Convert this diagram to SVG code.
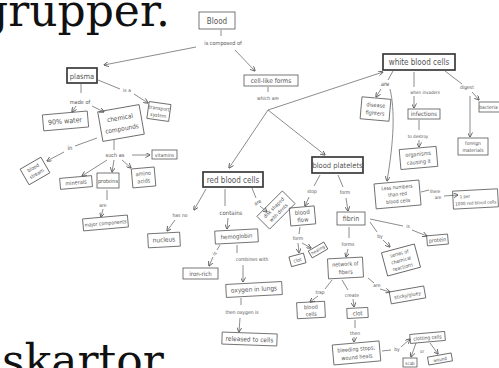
<svg xmlns="http://www.w3.org/2000/svg" width="499" height="368" viewBox="0 0 499 368">
  <defs>
    <marker id="arr" viewBox="0 0 6 6" refX="5.5" refY="3" markerWidth="5" markerHeight="5" markerUnits="userSpaceOnUse" orient="auto">
      <path d="M0,0 L6,3 L0,6" fill="none" stroke="#555" stroke-width="1"/>
    </marker>
  </defs>
  <style>
    .bg { fill: #ffffff; }
    .big { font-family: "DejaVu Serif", "Liberation Serif", serif; font-size: 44px; fill: #111; }
    .box { fill: none; stroke: #555; stroke-width: 0.8; }
    .main { fill: none; stroke: #3a3a3a; stroke-width: 1.7; }
    .t { font-family: "DejaVu Sans Condensed", "DejaVu Sans", sans-serif; fill: #555; text-anchor: middle; }
    .c { fill: none; stroke: #666; stroke-width: 0.75; }
    .a { marker-end: url(#arr); }
  </style>
  <rect class="bg" x="0" y="0" width="499" height="368"/>

  <!-- surrounding page text -->
  <text class="big" x="-20" y="26">grupper.</text>
  <text class="big" x="2" y="376">skartor</text>

  <!-- connectors -->
  <g id="connectors">
    <line class="c" x1="221" y1="30" x2="221" y2="36"/>
    <line class="c a" x1="196" y1="47" x2="104" y2="65"/>
    <line class="c a" x1="235" y1="50" x2="255" y2="71"/>
    <line class="c" x1="268" y1="87" x2="268" y2="92"/>
    <line class="c a" x1="268" y1="110" x2="229" y2="168"/>
    <line class="c a" x1="268" y1="110" x2="325" y2="155"/>
    <line class="c a" x1="268" y1="110" x2="383" y2="72"/>

    <line class="c" x1="98" y1="80" x2="120" y2="89"/>
    <line class="c a" x1="134" y1="94" x2="148" y2="103"/>
    <line class="c" x1="81" y1="84" x2="81" y2="93"/>
    <line class="c a" x1="76" y1="106" x2="72" y2="112"/>
    <line class="c a" x1="92" y1="106" x2="104" y2="112"/>
    <line class="c" x1="97" y1="138" x2="75" y2="146"/>
    <line class="c a" x1="64" y1="152" x2="47" y2="161"/>
    <line class="c" x1="114" y1="140" x2="114" y2="150"/>
    <line class="c a" x1="132" y1="155" x2="150" y2="155"/>
    <line class="c a" x1="107" y1="160" x2="82" y2="176"/>
    <line class="c a" x1="114" y1="160" x2="112" y2="172"/>
    <line class="c a" x1="122" y1="160" x2="131" y2="168"/>
    <line class="c" x1="107" y1="190" x2="107" y2="200"/>
    <line class="c a" x1="103" y1="209" x2="101" y2="217"/>

    <line class="c a" x1="206" y1="189" x2="194" y2="210"/>
    <line class="c a" x1="175" y1="220" x2="167" y2="231"/>
    <line class="c" x1="225" y1="189" x2="225" y2="206"/>
    <line class="c a" x1="228" y1="218" x2="227" y2="229"/>
    <line class="c" x1="252" y1="188" x2="256" y2="198"/>
    <line class="c a" x1="260" y1="206" x2="267" y2="212"/>
    <line class="c" x1="220" y1="245" x2="217" y2="250"/>
    <line class="c a" x1="213" y1="257" x2="209" y2="266"/>
    <line class="c" x1="237" y1="245" x2="237" y2="253"/>
    <line class="c a" x1="243" y1="265" x2="243" y2="282"/>
    <line class="c" x1="241" y1="298" x2="241" y2="305"/>
    <line class="c a" x1="240" y1="318" x2="239" y2="332"/>

    <line class="c" x1="393" y1="71" x2="388" y2="80"/>
    <line class="c a" x1="381" y1="89" x2="376" y2="97"/>
    <path class="c a" d="M390,89 C395,110 394,140 387,181"/>
    <line class="c" x1="414" y1="72" x2="414" y2="87"/>
    <line class="c a" x1="414" y1="96" x2="414" y2="108"/>
    <line class="c" x1="419" y1="120" x2="419" y2="130"/>
    <line class="c a" x1="419" y1="140" x2="419" y2="147"/>
    <line class="c" x1="445" y1="71" x2="462" y2="84"/>
    <line class="c a" x1="472" y1="92" x2="479" y2="100"/>
    <line class="c a" x1="470" y1="96" x2="470" y2="137"/>
    <line class="c" x1="421" y1="192" x2="429" y2="190"/>
    <line class="c a" x1="444" y1="196" x2="458" y2="195"/>

    <line class="c" x1="320" y1="175" x2="314" y2="186"/>
    <line class="c a" x1="309" y1="197" x2="305" y2="206"/>
    <line class="c" x1="338" y1="175" x2="343" y2="187"/>
    <line class="c a" x1="346" y1="198" x2="348" y2="211"/>
    <line class="c" x1="300" y1="227" x2="299" y2="234"/>
    <line class="c a" x1="298" y1="243" x2="299" y2="253"/>
    <line class="c a" x1="302" y1="243" x2="311" y2="248"/>
    <line class="c" x1="349" y1="227" x2="349" y2="238"/>
    <line class="c a" x1="348" y1="249" x2="346" y2="257"/>
    <line class="c" x1="370" y1="219" x2="403" y2="226"/>
    <line class="c a" x1="412" y1="230" x2="427" y2="236"/>
    <line class="c" x1="370" y1="222" x2="377" y2="232"/>
    <line class="c a" x1="383" y1="240" x2="390" y2="247"/>
    <line class="c" x1="368" y1="278" x2="374" y2="283"/>
    <line class="c a" x1="380" y1="289" x2="390" y2="292"/>
    <line class="c" x1="332" y1="280" x2="325" y2="289"/>
    <line class="c a" x1="318" y1="296" x2="310" y2="302"/>
    <line class="c" x1="342" y1="280" x2="348" y2="290"/>
    <line class="c a" x1="353" y1="299" x2="354" y2="307"/>
    <line class="c" x1="355" y1="320" x2="355" y2="328"/>
    <line class="c a" x1="354" y1="337" x2="354" y2="342"/>
    <line class="c" x1="382" y1="351" x2="391" y2="350"/>
    <line class="c a" x1="401" y1="347" x2="410" y2="339"/>
    <line class="c a" x1="416" y1="343" x2="411" y2="357"/>
    <line class="c a" x1="430" y1="343" x2="438" y2="354"/>
  </g>

  <!-- link phrases -->
  <g id="link-labels">
    <text class="t" x="223" y="45" font-size="5.5">is composed of</text>
    <text class="t" x="268" y="100" font-size="5">which are</text>
    <text class="t" x="127" y="92" font-size="5">is a</text>
    <text class="t" x="80" y="104" font-size="5.5">made of</text>
    <text class="t" x="70" y="150" font-size="6">in</text>
    <text class="t" x="115" y="157" font-size="5.5">such as</text>
    <text class="t" x="103" y="207" font-size="5">are</text>
    <text class="t" x="180" y="217" font-size="5">has no</text>
    <text class="t" x="231" y="215" font-size="6">contains</text>
    <text class="t" x="258" y="204" font-size="5" transform="rotate(-30 258 203)">are</text>
    <text class="t" x="215" y="255" font-size="5" transform="rotate(-40 215 254)">is</text>
    <text class="t" x="252" y="261" font-size="5">combines with</text>
    <text class="t" x="242" y="314" font-size="5">then oxygen is</text>
    <text class="t" x="385" y="86" font-size="6">are</text>
    <text class="t" x="425" y="94" font-size="4.5">when invaders</text>
    <text class="t" x="418" y="138" font-size="4.5">to destroy</text>
    <text class="t" x="467" y="89" font-size="5">digest</text>
    <text class="t" x="435" y="193" font-size="4.5">there</text>
    <text class="t" x="438" y="199" font-size="4.5">are</text>
    <text class="t" x="312" y="193" font-size="5">stop</text>
    <text class="t" x="345" y="194" font-size="5">form</text>
    <text class="t" x="298" y="240" font-size="5">form</text>
    <text class="t" x="348" y="246" font-size="5">forms</text>
    <text class="t" x="408" y="228" font-size="5">is</text>
    <text class="t" x="380" y="238" font-size="5">by</text>
    <text class="t" x="377" y="287" font-size="5">are</text>
    <text class="t" x="320" y="294" font-size="5">trap</text>
    <text class="t" x="352" y="297" font-size="5">create</text>
    <text class="t" x="355" y="335" font-size="5">then</text>
    <text class="t" x="397" y="351" font-size="5">by</text>
    <text class="t" x="422" y="353" font-size="4.5">or</text>
  </g>

  <!-- concepts -->
  <g id="blood"><rect class="box" x="199" y="12" width="36" height="17" stroke-width="1.1"/><text class="t" x="217" y="23.5" font-size="8">Blood</text></g>
  <g id="cell-like-forms"><rect class="box" x="244" y="75" width="54" height="11"/><text class="t" x="271" y="83" font-size="6.5">cell-like forms</text></g>
  <g id="plasma"><rect class="main" x="67" y="68" width="30" height="15"/><text class="t" x="82" y="78.5" font-size="7.5">plasma</text></g>
  <g id="transport-system" transform="rotate(8 159 111)"><rect class="box" x="148" y="103" width="22" height="17"/><text class="t" x="159" y="110" font-size="5">transport</text><text class="t" x="159" y="117" font-size="5">system</text></g>
  <g id="water" transform="rotate(-5 65 121)"><rect class="box" x="43" y="113" width="45" height="16"/><text class="t" x="65" y="123.5" font-size="7">90% water</text></g>
  <g id="chemical-compounds" transform="rotate(-10 121 123)"><rect class="box" x="100" y="108" width="42" height="30"/><text class="t" x="121" y="120" font-size="6.5">chemical</text><text class="t" x="121" y="131" font-size="6.5">compounds</text></g>
  <g id="blood-stream" transform="rotate(-30 35 171)"><rect class="box" x="23" y="162" width="24" height="18"/><text class="t" x="35" y="169" font-size="5">blood</text><text class="t" x="35" y="176" font-size="5">stream</text></g>
  <g id="vitamins"><rect class="box" x="152" y="150" width="25" height="9"/><text class="t" x="164.5" y="156.5" font-size="5">vitamins</text></g>
  <g id="minerals" transform="rotate(-5 76 182)"><rect class="box" x="60" y="177" width="32" height="11"/><text class="t" x="76" y="184.5" font-size="5.5">minerals</text></g>
  <g id="proteins"><rect class="box" x="97" y="173" width="22" height="15"/><text class="t" x="108" y="182.5" font-size="5.5">proteins</text></g>
  <g id="amino-acids" transform="rotate(-5 143 177)"><rect class="box" x="132" y="168" width="23" height="19"/><text class="t" x="143.5" y="175.5" font-size="5.5">amino</text><text class="t" x="143.5" y="183" font-size="5.5">acids</text></g>
  <g id="major-components" transform="rotate(-5 105 223)"><rect class="box" x="83" y="217" width="45" height="12"/><text class="t" x="105.5" y="225" font-size="5">major components</text></g>

  <g id="red-blood-cells"><rect class="main" x="203" y="172" width="60" height="15"/><text class="t" x="233" y="182.5" font-size="8">red blood cells</text></g>
  <g id="blood-platelets"><rect class="main" x="312" y="157" width="51" height="16"/><text class="t" x="337.5" y="167.5" font-size="7.5">blood platelets</text></g>
  <g id="white-blood-cells"><rect class="main" x="383" y="54" width="72" height="16"/><text class="t" x="419" y="65" font-size="8">white blood cells</text></g>

  <g id="nucleus" transform="rotate(-3 164 240)"><rect class="box" x="148" y="233" width="32" height="14"/><text class="t" x="164" y="242" font-size="6.5">nucleus</text></g>
  <g id="hemoglobin" transform="rotate(-3 236 236)"><rect class="box" x="215" y="230" width="43" height="13"/><text class="t" x="236.5" y="238.5" font-size="6">hemoglobin</text></g>
  <g id="disk-shape" transform="rotate(-45 276 210)"><rect class="box" x="258" y="201" width="36" height="18"/><text class="t" x="276" y="208.5" font-size="5">disk shaped</text><text class="t" x="276" y="215.5" font-size="5">with dents</text></g>
  <g id="iron-rich"><rect class="box" x="183" y="268" width="35" height="11"/><text class="t" x="200.5" y="275.5" font-size="6">iron-rich</text></g>
  <g id="oxygen-in-lungs" transform="rotate(-3 254 289)"><rect class="box" x="226" y="283" width="56" height="13"/><text class="t" x="254" y="291.5" font-size="6.5">oxygen in lungs</text></g>
  <g id="released-to-cells" transform="rotate(2 249 339)"><rect class="box" x="222" y="333" width="55" height="12"/><text class="t" x="249.5" y="341.5" font-size="6.5">released to cells</text></g>

  <g id="disease-fighters" transform="rotate(5 375 109)"><rect class="box" x="361" y="98" width="29" height="22"/><text class="t" x="375.5" y="107" font-size="5.5">disease</text><text class="t" x="375.5" y="115" font-size="5.5">fighters</text></g>
  <g id="infections"><rect class="box" x="408" y="109" width="32" height="10"/><text class="t" x="424" y="116" font-size="6">infections</text></g>
  <g id="organisms" transform="rotate(-5 418 158)"><rect class="box" x="400" y="148" width="37" height="20"/><text class="t" x="418.5" y="156" font-size="5.5">organisms</text><text class="t" x="418.5" y="164" font-size="5.5">causing it</text></g>
  <g id="bacteria"><rect class="box" x="479" y="102" width="30" height="10"/><text class="t" x="488.5" y="109" font-size="5">bacteria</text></g>
  <g id="foreign-materials"><rect class="box" x="458" y="138" width="30" height="17"/><text class="t" x="473" y="145" font-size="5">foreign</text><text class="t" x="473" y="152" font-size="5">materials</text></g>
  <g id="fewer-cells" transform="rotate(-5 397 194)"><rect class="box" x="375" y="182" width="45" height="25"/><text class="t" x="397.5" y="189" font-size="5">Less numbers</text><text class="t" x="397.5" y="196" font-size="5">than red</text><text class="t" x="397.5" y="203" font-size="5">blood cells</text></g>
  <g id="one-per-thousand" transform="rotate(-3 475 199)"><rect class="box" x="453" y="190" width="45" height="18"/><text class="t" x="465" y="197.5" font-size="4.5">1 per</text><text class="t" x="475.5" y="204.5" font-size="4.5">1000 red blood cells</text></g>

  <g id="blood-flow" transform="rotate(-5 302 216)"><rect class="box" x="290" y="207" width="25" height="18"/><text class="t" x="302.5" y="214.5" font-size="6">blood</text><text class="t" x="302.5" y="222" font-size="6">flow</text></g>
  <g id="fibrin"><rect class="box" x="337" y="212" width="28" height="13"/><text class="t" x="351" y="221" font-size="7">fibrin</text></g>
  <g id="clot-a" transform="rotate(-15 297 260)"><rect class="box" x="290" y="255" width="15" height="10"/><text class="t" x="297.5" y="262" font-size="5">clot</text></g>
  <g id="healing" transform="rotate(-30 318 250)"><rect class="box" x="309" y="246" width="18" height="8"/><text class="t" x="318" y="251.5" font-size="4.5">healing</text></g>
  <g id="fiber-network" transform="rotate(-3 345 268)"><rect class="box" x="328" y="258" width="35" height="20"/><text class="t" x="345.5" y="266" font-size="5.5">network of</text><text class="t" x="345.5" y="274" font-size="5.5">fibers</text></g>
  <g id="protein" transform="rotate(-5 437 240)"><rect class="box" x="427" y="235" width="21" height="10"/><text class="t" x="437.5" y="242" font-size="5.5">protein</text></g>
  <g id="chemical-reactions" transform="rotate(-15 401 260)"><rect class="box" x="384" y="248" width="34" height="24"/><text class="t" x="401" y="255" font-size="5">series of</text><text class="t" x="401" y="262" font-size="5">chemical</text><text class="t" x="401" y="269" font-size="5">reactions</text></g>
  <g id="sticky" transform="rotate(-10 407 295)"><rect class="box" x="390" y="289" width="35" height="12"/><text class="t" x="407.5" y="297" font-size="5">sticky/gluey</text></g>
  <g id="blood-cells" transform="rotate(-3 311 310)"><rect class="box" x="297" y="302" width="28" height="16"/><text class="t" x="311" y="309" font-size="5.5">blood</text><text class="t" x="311" y="316" font-size="5.5">cells</text></g>
  <g id="clot-b" transform="rotate(-3 357 313)"><rect class="box" x="347" y="308" width="21" height="10"/><text class="t" x="357.5" y="315.5" font-size="6">clot</text></g>
  <g id="bleeding-stops" transform="rotate(-5 356 353)"><rect class="box" x="333" y="343" width="47" height="20"/><text class="t" x="356.5" y="351" font-size="5.5">bleeding stops;</text><text class="t" x="356.5" y="359" font-size="5.5">wound heals</text></g>
  <g id="clotting-cells" transform="rotate(-5 427 337)"><rect class="box" x="410" y="333" width="35" height="9"/><text class="t" x="427.5" y="339.5" font-size="5">clotting cells</text></g>
  <g id="scab"><rect class="box" x="403" y="358" width="14" height="9"/><text class="t" x="410" y="364.5" font-size="4.5">scab</text></g>
  <g id="wound" transform="rotate(-10 440 359)"><rect class="box" x="428" y="355" width="24" height="8"/><text class="t" x="440" y="361" font-size="4.5">wound</text></g>
</svg>
